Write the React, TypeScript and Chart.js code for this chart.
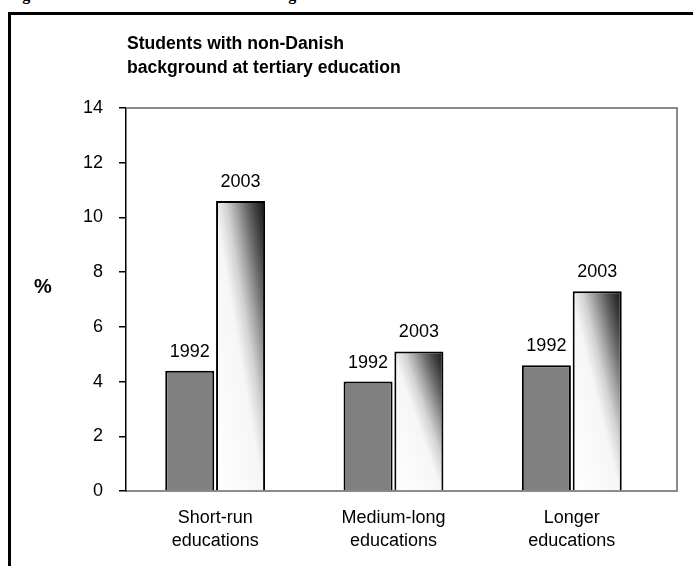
import React, { useEffect, useRef } from "react";
import { Chart, registerables } from "chart.js";

Chart.register(...registerables);

// ---- data ----
const categories: string[][] = [
  ["Short-run", "educations"],
  ["Medium-long", "educations"],
  ["Longer", "educations"],
];
const seriesNames = ["1992", "2003"];
const values1992 = [4.4, 4.0, 4.6];
const values2003 = [10.6, 5.1, 7.3];
const yTickValues = [0, 2, 4, 6, 8, 10, 12, 14];
const titleLines = ["Students with non-Danish", "background at tertiary education"];
const yTitle = "%";
const caption = "Figure 5: Students with non-Danish background";

const FONT = '"Liberation Sans", Arial, sans-serif';

const gradientPlugin = {
  id: "gradientBars",
  beforeDatasetsDraw(chart: any) {
    const meta = chart.getDatasetMeta(1);
    const ctx = chart.ctx;
    meta.data.forEach((el: any) => {
      const x0 = el.x - el.width / 2;
      const x1 = el.x + el.width / 2;
      const yTop = Math.min(el.y, el.base);
      const yBot = Math.max(el.y, el.base);
      const w = Math.max(1, x1 - x0);
      const h = Math.max(1, yBot - yTop);
      const S = 1 / (w * w) + 1 / (h * h);
      const dx = 2 / w / S;
      const dy = -2 / h / S;
      const g = ctx.createLinearGradient(x0, yBot, x0 + dx, yBot + dy);
      g.addColorStop(0, "#ffffff");
      g.addColorStop(0.48, "#f6f6f6");
      g.addColorStop(0.6, "#d2d2d2");
      g.addColorStop(0.7, "#a0a0a0");
      g.addColorStop(0.8, "#6a6a6a");
      g.addColorStop(0.9, "#3a3a3a");
      g.addColorStop(1, "#141414");
      if (el.options) el.options.backgroundColor = g;
    });
  },
};

const labelsPlugin = {
  id: "extraText",
  afterDatasetsDraw(chart: any) {
    const ctx = chart.ctx;
    ctx.save();
    ctx.fillStyle = "#000";
    ctx.font = `18px ${FONT}`;
    ctx.textAlign = "center";
    ctx.textBaseline = "alphabetic";
    chart.data.datasets.forEach((_: any, di: number) => {
      const meta = chart.getDatasetMeta(di);
      meta.data.forEach((el: any) => {
        ctx.fillText(seriesNames[di], el.x, el.y - 14);
      });
    });
    ctx.restore();
  },
  afterDraw(chart: any) {
    const { ctx, chartArea } = chart;
    ctx.save();
    // plot-area frame (top and right)
    ctx.strokeStyle = "#8a8a8a";
    ctx.lineWidth = 2;
    ctx.beginPath();
    ctx.moveTo(chartArea.left, chartArea.top);
    ctx.lineTo(chartArea.right, chartArea.top);
    ctx.lineTo(chartArea.right, chartArea.bottom);
    ctx.stroke();
    // title
    ctx.fillStyle = "#000";
    ctx.font = `bold 17.6px ${FONT}`;
    ctx.textAlign = "left";
    ctx.textBaseline = "alphabetic";
    titleLines.forEach((line, i) => {
      ctx.fillText(line, chartArea.left + 1, 49 + i * 23.5);
    });
    // y title
    ctx.font = `bold 20px ${FONT}`;
    ctx.fillText(yTitle, 34, 293);
    ctx.restore();
  },
};

export default function App() {
  const ref = useRef<HTMLCanvasElement>(null);
  useEffect(() => {
    if (!ref.current) return;
    const chart = new Chart(ref.current, {
      type: "bar",
      data: {
        datasets: [
          {
            label: seriesNames[0],
            data: values1992.map((v, i) => ({ x: i, y: v })),
            backgroundColor: "#808080",
            borderColor: "#000000",
            borderWidth: 2,
          },
          {
            label: seriesNames[1],
            data: values2003.map((v, i) => ({ x: i, y: v })),
            backgroundColor: () => "#ffffff",
            borderColor: "#000000",
            borderWidth: 2,
          },
        ],
      },
      options: {
        responsive: false,
        animation: false,
        categoryPercentage: 0.57,
        barPercentage: 0.965,
        layout: { padding: { top: 108, right: 16, left: 0, bottom: 0 } },
        plugins: {
          legend: { display: false },
          title: { display: false },
          tooltip: { enabled: false },
        },
        scales: {
          x: {
            type: "linear",
            offset: false,
            min: -0.5,
            max: 2.59,
            afterBuildTicks: (scale: any) => {
              scale.ticks = categories.map((_, i) => ({ value: i }));
            },
            afterFit: (scale: any) => {
              scale.height = 75;
            },
            grid: { display: false, drawTicks: false, offset: false },
            border: { display: true, color: "#8a8a8a", width: 2 },
            ticks: {
              color: "#000",
              padding: 15,
              maxRotation: 0,
              autoSkip: false,
              font: { family: FONT, size: 18, lineHeight: 1.3 },
              callback: (v: any) => categories[v as number] ?? "",
            },
          },
          y: {
            min: 0,
            max: 14,
            afterBuildTicks: (scale: any) => {
              scale.ticks = yTickValues.map((v) => ({ value: v }));
            },
            afterFit: (scale: any) => {
              scale.width = 126;
            },
            grid: {
              drawOnChartArea: false,
              drawTicks: true,
              tickLength: 7,
              color: "#000",
              lineWidth: 1.5,
            },
            border: { display: true, color: "#000", width: 1.5 },
            ticks: {
              color: "#000",
              padding: 16,
              font: { family: FONT, size: 18 },
            },
          },
        },
      },
      plugins: [gradientPlugin, labelsPlugin],
    } as any);
    return () => chart.destroy();
  }, []);

  return (
    <div
      style={{
        position: "fixed",
        left: 0,
        top: 0,
        width: 693,
        height: 566,
        overflow: "hidden",
        background: "#fff",
      }}
    >
      <div
        style={{
          position: "absolute",
          left: 8,
          top: -13.5,
          font: 'bold 16px "Liberation Serif", "Times New Roman", serif',
          lineHeight: "16px",
          whiteSpace: "nowrap",
          color: "#000",
        }}
      >
        {caption}
      </div>
      <div
        style={{
          position: "absolute",
          left: 8,
          top: 12,
          width: 720,
          height: 600,
          borderLeft: "3px solid #000",
          borderTop: "3px solid #000",
        }}
      />
      <canvas
        ref={ref}
        width={693}
        height={566}
        style={{ position: "absolute", left: 0, top: 0, width: 693, height: 566 }}
      />
    </div>
  );
}
